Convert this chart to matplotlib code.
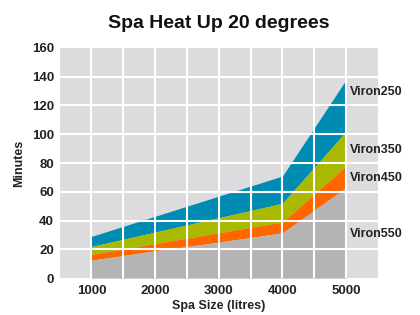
import numpy as np
import matplotlib as mpl
mpl.use('Agg')
from matplotlib import pyplot as plt

plt.rcParams['font.family'] = ['Liberation Sans', 'DejaVu Sans']
plt.rcParams['font.weight'] = 'bold'

spa_size = [1000, 2000, 3000, 4000, 5000]
models = ['Viron250', 'Viron350', 'Viron450', 'Viron550']
# top edge of each band, minutes
viron250 = [29, 43, 57, 71, 138]
viron350 = [22, 32, 42, 52, 102]
viron450 = [16.5, 24, 31.5, 39, 78]
viron550 = [12.5, 19, 25, 31.5, 63]
label_y = [129, 89, 69.5, 31]

colors = ['#008bb2', '#a9b900', '#ff6600', '#b4b4b4']
series = [viron250, viron350, viron450, viron550]

fig = plt.figure(figsize=(4.2, 3.15), dpi=100)
ax = fig.add_axes([0.142, 0.117, 0.758, 0.731])
ax.set_facecolor('#dcdcde')

for i in range(len(series)):
    if i + 1 < len(series):
        lower = series[i + 1]
    else:
        lower = [0] * len(spa_size)
    ax.fill_between(spa_size, lower, series[i], color=colors[i], linewidth=0, zorder=1)

ax.set_xlim(500, 5500)
ax.set_ylim(0, 160)
ax.set_xticks(spa_size)
ax.set_yticks(np.arange(0, 161, 20))
for xv in np.arange(1000, 5500, 500):
    ax.axvline(xv, color='white', linewidth=1.5, zorder=5)
for yv in np.arange(20, 160, 20):
    ax.axhline(yv, color='white', linewidth=1.5, zorder=5)
for s in ax.spines.values():
    s.set_visible(False)
ax.tick_params(which='both', length=0, labelsize=9.5, colors='#222222')
ax.tick_params(axis='y', pad=4)
ax.tick_params(axis='x', pad=5)

for i in range(len(models)):
    ax.text(5060, label_y[i], models[i], fontsize=9, fontweight='bold',
            color='#222222', va='center', ha='left', clip_on=False, zorder=20)

ax.set_xlabel('Spa Size (litres)', fontsize=9, fontweight='bold', color='#222222', labelpad=2)
ax.set_ylabel('Minutes', fontsize=9, fontweight='bold', color='#222222', labelpad=5)
ax.set_title('Spa Heat Up 20 degrees', fontsize=14, fontweight='bold', color='#111111', pad=14)

plt.savefig('out.png', dpi=100)
